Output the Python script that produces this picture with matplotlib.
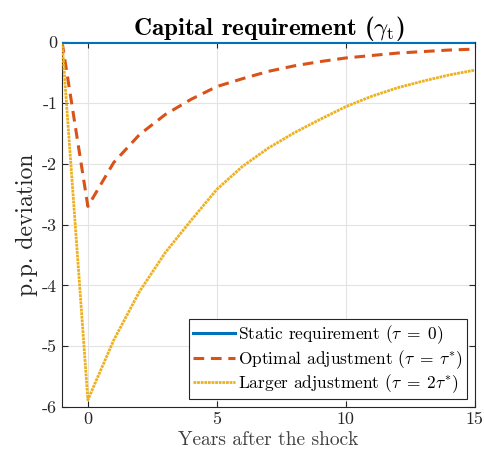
import numpy as np
import matplotlib
matplotlib.use("Agg")
import matplotlib.pyplot as plt

plt.rcParams['font.family'] = 'serif'
plt.rcParams['font.serif'] = ['cmr10']
plt.rcParams['mathtext.fontset'] = 'cm'
plt.rcParams['axes.unicode_minus'] = False
plt.rcParams['axes.formatter.use_mathtext'] = False

# years relative to the shock
years = list(range(-1, 16))
static = [0.0] * len(years)
optimal = [0.0, -2.70, -1.98, -1.52, -1.19, -0.94, -0.73, -0.60, -0.48, -0.39,
           -0.32, -0.26, -0.22, -0.18, -0.155, -0.13, -0.115]
larger = [0.0, -5.88, -4.90, -4.10, -3.46, -2.93, -2.42, -2.04, -1.74, -1.49,
          -1.27, -1.06, -0.89, -0.75, -0.64, -0.54, -0.46]

labels = [r'Static requirement ($\tau\;=\;0$)',
          r'Optimal adjustment ($\tau\;=\;\tau^{*}$)',
          r'Larger adjustment ($\tau\;=\;2\tau^{*}$)']

fig = plt.figure(figsize=(4.85, 4.58), dpi=100)
ax = fig.add_axes([0.128, 0.111, 0.851, 0.797])

ax.plot(years, static, color='#0072BD', lw=2.2, label=labels[0], zorder=4)
ax.plot(years, optimal, color='#D95319', lw=2.2, ls=(0, (3.5, 2.2)), label=labels[1], zorder=3)
ax.plot(years, larger, color='#EDB120', lw=2.0, ls=(0, (1, 0.3)), label=labels[2], zorder=3)

ax.set_xlim(-1, 15)
ax.set_ylim(-6, 0)
ax.set_xticks([0, 5, 10, 15])
ax.set_yticks(range(-6, 1))
ax.grid(True, color='#e3e3e3', lw=0.8)
ax.set_axisbelow(True)
ax.tick_params(direction='in', top=True, right=True, labelsize=13,
               colors='#262626', length=4)
for s in ax.spines.values():
    s.set_color('#262626')
    s.set_linewidth(0.8)

ax.set_title(r'Capital requirement ($\gamma_{\mathrm{t}}$)', fontfamily='cmb10',
             fontsize=18, pad=5)
ax.set_ylabel('p.p. deviation', fontsize=17, color='#262626', labelpad=3)
ax.set_xlabel('Years after the shock', fontsize=14, color='#404040', labelpad=3)

leg = ax.legend(loc='lower right', fontsize=12.5, handlelength=2.4,
                handletextpad=0.15, borderpad=0.25, labelspacing=0.1,
                fancybox=False, framealpha=1, borderaxespad=0.45)
leg.get_frame().set_edgecolor('#262626')
leg.get_frame().set_linewidth(0.8)

fig.savefig('out.png', dpi=100)
